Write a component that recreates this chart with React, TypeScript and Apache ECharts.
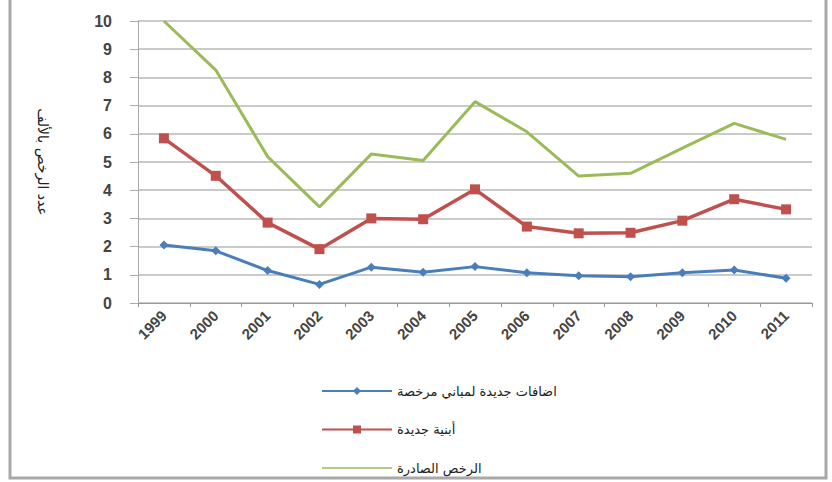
import React, { useEffect, useRef } from "react";
import * as echarts from "echarts";

const years = ["1999", "2000", "2001", "2002", "2003", "2004", "2005", "2006", "2007", "2008", "2009", "2010", "2011"];
const additions = [2.06, 1.85, 1.15, 0.66, 1.27, 1.09, 1.29, 1.07, 0.97, 0.93, 1.07, 1.17, 0.88];
const newBuildings = [5.84, 4.51, 2.85, 1.91, 3.0, 2.97, 4.03, 2.71, 2.47, 2.49, 2.92, 3.68, 3.32];
const permits = [10, 8.26, 5.19, 3.41, 5.28, 5.05, 7.14, 6.07, 4.5, 4.6, 5.49, 6.37, 5.8];
const seriesNames = ["اضافات جديدة لمباني مرخصة", "أبنية جديدة", "الرخص الصادرة"];
const yAxisName = "عدد الرخص بالألف";

export default function App() {
  const ref = useRef<HTMLDivElement>(null);
  useEffect(() => {
    const chart = echarts.init(ref.current!, null, { renderer: "svg" });
    chart.setOption({
      animation: false,
      backgroundColor: "#ffffff",
      textStyle: { fontFamily: "DejaVu Sans" },
      graphic: [
        { type: "rect", shape: { x: 10, y: -4, width: 816, height: 482 }, style: { fill: "none", stroke: "#a8a8a8", lineWidth: 3 }, silent: true },
      ],
      grid: { left: 138, right: 20, top: 21, bottom: 179, containLabel: false },
      legend: {
        orient: "vertical",
        left: 321,
        top: 384,
        padding: 0,
        itemGap: 24.5,
        itemWidth: 70,
        itemHeight: 10,
        data: [
          { name: seriesNames[0] },
          { name: seriesNames[1] },
          { name: seriesNames[2], icon: "path://M0,4.2L70,4.2L70,5.8L0,5.8Z" },
        ],
        textStyle: { fontSize: 13, lineHeight: 14, color: "#222", fontFamily: "DejaVu Sans" },
      },
      xAxis: {
        type: "category",
        data: years,
        boundaryGap: true,
        axisLine: { lineStyle: { color: "#999" } },
        axisTick: { show: true, length: 4, lineStyle: { color: "#999" } },
        axisLabel: { rotate: 45, fontSize: 15, fontWeight: "bold", color: "#444", margin: 10, fontFamily: "Liberation Sans" },
      },
      yAxis: {
        type: "value",
        min: 0,
        max: 10,
        interval: 1,
        name: yAxisName,
        nameLocation: "middle",
        nameGap: 88,
        nameRotate: -90,
        nameTextStyle: { fontSize: 14, color: "#222", fontFamily: "DejaVu Sans" },
        axisLine: { show: true, lineStyle: { color: "#aaa" } },
        axisTick: { show: true, length: 8, lineStyle: { color: "#aaa" } },
        axisLabel: { fontSize: 16, fontWeight: "bold", color: "#444", margin: 26, fontFamily: "Liberation Sans" },
        splitLine: { lineStyle: { color: "#b8b8b8", width: 1.5 } },
      },
      series: [
        {
          name: seriesNames[0],
          type: "line",
          data: additions,
          symbol: "diamond",
          symbolSize: 9,
          lineStyle: { color: "#4a7ebb", width: 3 },
          itemStyle: { color: "#4a7ebb" },
        },
        {
          name: seriesNames[1],
          type: "line",
          data: newBuildings,
          symbol: "rect",
          symbolSize: 10,
          lineStyle: { color: "#c0504d", width: 3.5 },
          itemStyle: { color: "#c0504d" },
        },
        {
          name: seriesNames[2],
          type: "line",
          data: permits,
          symbol: "none",
          lineStyle: { color: "#9bbb59", width: 3 },
          itemStyle: { color: "#9bbb59" },
        },
      ],
    });
    return () => chart.dispose();
  }, []);
  return <div ref={ref} style={{ position: "absolute", left: 0, top: 0, width: 832, height: 482 }} />;
}
